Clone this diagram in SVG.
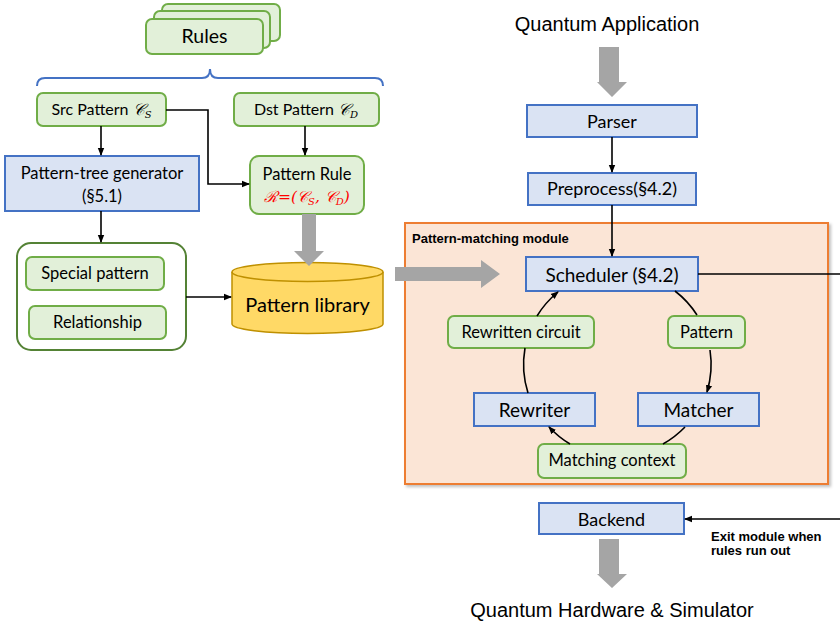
<svg xmlns="http://www.w3.org/2000/svg" width="840" height="624" viewBox="0 0 840 624">
<style>
.g{fill:#e2f0d9;stroke:#70ad47;stroke-width:2}
.b{fill:#dae3f3;stroke:#4472c4;stroke-width:2}
.t{font-family:Lato,"Liberation Sans",sans-serif;fill:#000;text-anchor:middle}
.a{font-family:"Liberation Sans",Arial,sans-serif;fill:#000}
.m{font-family:"DejaVu Serif","Liberation Serif",serif;font-style:italic}
.c{fill:none;stroke:#000;stroke-width:1.6}
.gray{fill:#a5a5a5}
</style>
<defs>
<marker id="ah" markerWidth="8" markerHeight="8" refX="7" refY="4" orient="auto" markerUnits="userSpaceOnUse">
<path d="M0,0.8 L8,4 L0,7.2 Z" fill="#000"/>
</marker>
<filter id="sh" x="-5%" y="-5%" width="110%" height="110%"><feDropShadow dx="2" dy="2" stdDeviation="1.5" flood-color="#000" flood-opacity="0.25"/></filter>
</defs>
<rect width="840" height="624" fill="#fff"/>

<g id="module">
<rect x="405" y="223" width="423" height="261" fill="#fbe5d6" stroke="#ed7d31" stroke-width="2" filter="url(#sh)"/>
<text class="a" x="412" y="243" font-size="13" font-weight="bold">Pattern-matching module</text>
</g>

<g id="rules">
<rect class="g" x="162" y="4" width="118" height="37" rx="6"/>
<rect class="g" x="154" y="11" width="116" height="37" rx="6"/>
<rect class="g" x="146" y="19" width="117" height="35" rx="6"/>
<text class="t" x="204.5" y="43" font-size="19.5">Rules</text>
</g>

<g id="brace">
<path d="M37,86 Q37,78 45,78 L202,78 Q210,78 210,69 Q210,78 218,78 L375,78 Q383,78 383,86" fill="none" stroke="#4472c4" stroke-width="2"/>
</g>

<g id="src">
<rect class="g" x="37" y="93" width="129" height="33" rx="6"/>
<text class="t" x="101.5" y="115" font-size="16">Src Pattern <tspan class="m" font-size="16">𝒞</tspan><tspan class="m" font-size="10" dy="3">S</tspan></text>
</g>

<g id="dst">
<rect class="g" x="234" y="93" width="145" height="33" rx="6"/>
<text class="t" x="306" y="115" font-size="16">Dst Pattern <tspan class="m" font-size="16">𝒞</tspan><tspan class="m" font-size="10" dy="3">D</tspan></text>
</g>

<g id="ptg">
<rect class="b" x="5" y="156" width="194" height="55"/>
<text class="t" x="102" y="179" font-size="16.5">Pattern-tree generator</text>
<text class="t" x="102" y="202" font-size="16.5">(§5.1)</text>
</g>

<g id="prule">
<rect class="g" x="250" y="156" width="114" height="58" rx="9"/>
<text class="t" x="307" y="180" font-size="16.5">Pattern Rule</text>
<text class="m" x="307" y="202" font-size="15.5" fill="#ff0000" text-anchor="middle">ℛ=(𝒞<tspan font-size="10" dy="3">S</tspan><tspan dy="-3">, 𝒞</tspan><tspan font-size="10" dy="3">D</tspan><tspan dy="-3">)</tspan></text>
</g>

<g id="container">
<rect x="17" y="243" width="169" height="107" rx="14" fill="#fff" stroke="#548235" stroke-width="2"/>
</g>
<g id="special">
<rect class="g" x="26" y="257" width="138" height="33" rx="6"/>
<text class="t" x="95" y="279" font-size="16.5">Special pattern</text>
</g>
<g id="relationship">
<rect class="g" x="29" y="306" width="137" height="33" rx="6"/>
<text class="t" x="97.5" y="328" font-size="16.5">Relationship</text>
</g>

<g id="library">
<path d="M232,272 A75.5,9.5 0 0 1 383,272 L383,324 A75.5,9.5 0 0 1 232,324 Z" fill="#ffd966" stroke="#bf9000" stroke-width="1.5"/>
<path d="M232,272 A75.5,9.5 0 0 0 383,272" fill="none" stroke="#bf9000" stroke-width="1.5"/>
<text class="t" x="307.5" y="312" font-size="20">Pattern library</text>
</g>

<g id="qapp">
<text class="a" x="607" y="31" font-size="20" text-anchor="middle">Quantum Application</text>
</g>
<g id="parser">
<rect class="b" x="527" y="105" width="170" height="32"/>
<text class="t" x="612" y="128" font-size="18">Parser</text>
</g>
<g id="preprocess">
<rect class="b" x="528" y="173" width="168" height="32"/>
<text class="t" x="612" y="195" font-size="18">Preprocess(§4.2)</text>
</g>
<g id="scheduler">
<rect class="b" x="526" y="257" width="172" height="34"/>
<text class="t" x="612" y="282" font-size="19">Scheduler (§4.2)</text>
</g>
<g id="rewritten">
<rect class="g" x="448" y="316" width="146" height="32" rx="6"/>
<text class="t" x="521" y="338" font-size="16.5">Rewritten circuit</text>
</g>
<g id="pattern">
<rect class="g" x="668" y="316" width="77" height="32" rx="6"/>
<text class="t" x="706.5" y="338" font-size="16.5">Pattern</text>
</g>
<g id="rewriter">
<rect class="b" x="474" y="393" width="121" height="33"/>
<text class="t" x="534.5" y="417" font-size="19">Rewriter</text>
</g>
<g id="matcher">
<rect class="b" x="638" y="393" width="121" height="33"/>
<text class="t" x="698.5" y="417" font-size="19">Matcher</text>
</g>
<g id="context">
<rect class="g" x="538" y="444" width="148" height="34" rx="6"/>
<text class="t" x="612" y="466" font-size="16.5">Matching context</text>
</g>
<g id="backend">
<rect class="b" x="539" y="503" width="145" height="31"/>
<text class="t" x="611.5" y="526" font-size="18">Backend</text>
</g>
<g id="qhw">
<text class="a" x="612" y="617" font-size="20" text-anchor="middle">Quantum Hardware &amp; Simulator</text>
</g>
<g id="exitlabel">
<text class="a" x="711" y="541" font-size="13" font-weight="bold">Exit module when</text>
<text class="a" x="711" y="555" font-size="13" font-weight="bold">rules run out</text>
</g>

<g id="connectors">
<path class="c" d="M101,126 L101,155" marker-end="url(#ah)"/>
<path class="c" d="M166,110 L208,110 L208,184 L249,184" marker-end="url(#ah)"/>
<path class="c" d="M305,126 L305,155" marker-end="url(#ah)"/>
<path class="c" d="M101,211 L101,242" marker-end="url(#ah)"/>
<path class="c" d="M186,297 L231,297" marker-end="url(#ah)"/>
<path class="gray" d="M302,214 L316,214 L316,251 L324,251 L309,266 L294,251 L302,251 Z"/>
<path class="gray" d="M395,267 L481,267 L481,260 L500,274 L481,288 L481,281 L395,281 Z"/>
<path class="gray" d="M599,47 L619,47 L619,82 L627,82 L612,97 L597,82 L599,82 Z"/>
<path class="gray" d="M599,539 L619,539 L619,574 L627,574 L612,588 L597,574 L599,574 Z"/>
<path class="c" d="M612,137 L612,172" marker-end="url(#ah)"/>
<path class="c" d="M612,205 L612,256" marker-end="url(#ah)"/>
<path class="c" d="M698,274 L840,274"/>
<path class="c" d="M840,519 L685,519" marker-end="url(#ah)"/>
<path class="c" d="M675,291 A95,95 0 0 1 697,315"/>
<path class="c" d="M710,350 A95,95 0 0 1 707,392" marker-end="url(#ah)"/>
<path class="c" d="M685,427 A95,95 0 0 1 663,444"/>
<path class="c" d="M570,444 A95,95 0 0 1 549,427" marker-end="url(#ah)"/>
<path class="c" d="M528,393 A95,95 0 0 1 525,348"/>
<path class="c" d="M537,316 A95,95 0 0 1 558,292" marker-end="url(#ah)"/>
</g>
</svg>
